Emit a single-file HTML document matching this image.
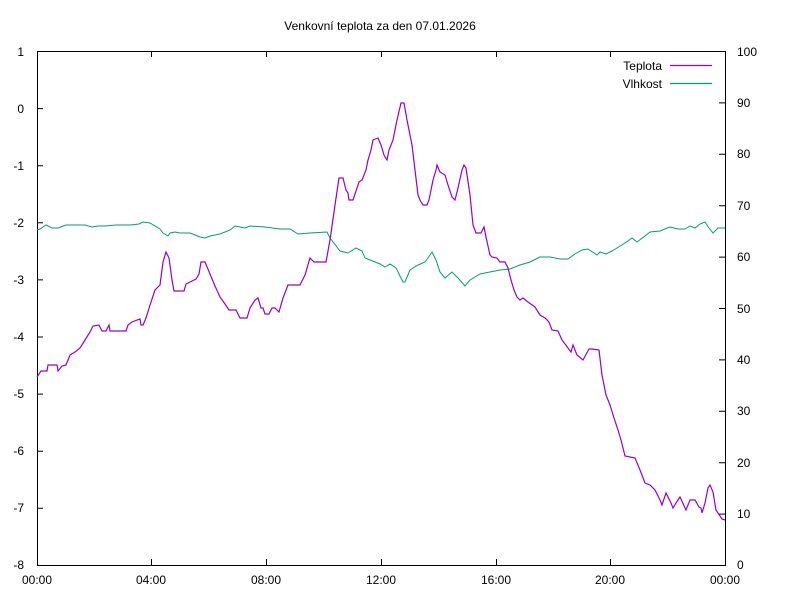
<!DOCTYPE html>
<html><head><meta charset="utf-8"><style>body{margin:0;background:#fff}svg{display:block}text{font-family:"Liberation Sans",sans-serif;font-size:12px;fill:#000}</style></head><body>
<svg width="800" height="600" viewBox="0 0 800 600">
<text x="380" y="30" text-anchor="middle">Venkovní teplota za den 07.01.2026</text>
<rect x="37.5" y="51.5" width="688" height="514" fill="none" stroke="#000" stroke-width="1"/>
<g stroke="#000" stroke-width="1">
<path d="M37 51.5h6M37 108.6h6M37 165.7h6M37 222.8h6M37 279.9h6M37 337h6M37 394.1h6M37 451.2h6M37 508.3h6M37 565.5h6"/>
<path d="M725 51.5h-6M725 102.9h-6M725 154.3h-6M725 205.7h-6M725 257.1h-6M725 308.5h-6M725 359.9h-6M725 411.3h-6M725 462.7h-6M725 514.1h-6"/>
<path d="M151.5 565v-6M266.5 565v-6M381.5 565v-6M496.5 565v-6M610.5 565v-6M151.5 51v6M266.5 51v6M381.5 51v6M496.5 51v6M610.5 51v6"/>
</g>
<g text-anchor="end">
<text x="24" y="56">1</text><text x="24" y="113">0</text><text x="24" y="170">-1</text><text x="24" y="227">-2</text><text x="24" y="284">-3</text><text x="24" y="341">-4</text><text x="24" y="398">-5</text><text x="24" y="455">-6</text><text x="24" y="512">-7</text><text x="24" y="569">-8</text>
</g>
<g>
<text x="737" y="56">100</text><text x="737" y="107">90</text><text x="737" y="158">80</text><text x="737" y="210">70</text><text x="737" y="261">60</text><text x="737" y="313">50</text><text x="737" y="364">40</text><text x="737" y="415">30</text><text x="737" y="467">20</text><text x="737" y="518">10</text><text x="737" y="569">0</text>
</g>
<g text-anchor="middle">
<text x="37" y="584">00:00</text><text x="151" y="584">04:00</text><text x="266" y="584">08:00</text><text x="381" y="584">12:00</text><text x="496" y="584">16:00</text><text x="610" y="584">20:00</text><text x="725" y="584">00:00</text>
</g>
<text x="662" y="70" text-anchor="end">Teplota</text>
<text x="662" y="88" text-anchor="end">Vlhkost</text>
<path d="M670 65.5h42" stroke="#9400d3" stroke-width="1.2"/>
<path d="M670 83.5h42" stroke="#009e73" stroke-width="1.2"/>
<polyline fill="none" stroke="#009e73" stroke-width="1" points="37,230 40,229 46,225 52,228 58,228 66,225 75,225 85,225 92,227 98,226 105,226 116,225 130,225 139,224 143,222 150,223 160,229 163,233 168,236 170,233 175,232 180,233 190,233 200,237 205,238 210,236 220,234 230,230 235,226 240,227 245,228 250,226 265,227 280,229 290,229 298,234 310,233 327,232 330,238 340,251 348,253 356,248 362,251 365,258 370,260 380,264 385,267 390,264 396,268 403,282 405,282 410,270 418,265 425,262 430,255 432,252 436,260 440,272 445,278 452,272 458,278 465,286 470,280 480,274 490,272 500,270 510,269 520,265 530,262 540,257 550,257 560,259 568,259 575,254 582,250 588,249 597,255 600,252 606,254 612,251 617,248 625,243 632,238 637,242 645,236 650,232 660,231 665,229 670,227 678,229 685,229 690,226 695,228 700,224 705,222 709,228 713,233 718,228 725,228"/>
<polyline fill="none" stroke="#9400d3" stroke-width="1.2" points="37,377 41,371 47,371 48,365 57,365 58,371 62,366 66,365 70,355 75,352 80,348 85,340 90,332 93,326 99,325 102,331 106,331 109,325 110,331 126,331 128,325 132,322 140,319 141,325 143,325 146,318 150,305 155,290 160,285 163,262 166,252 169,258 172,280 174,291 184,291 186,284 196,279 199,274 201,262 205,262 210,274 215,286 220,297 225,304 229,310 236,310 240,318 247,318 250,308 255,300 258,298 261,308 263,308 265,314 269,314 272,308 275,308 279,312 283,298 288,285 300,285 305,275 310,258 314,262 326,262 330,240 335,205 339,178 343,178 346,190 348,193 349,200 353,200 359,182 362,180 366,170 368,160 371,150 373,140 378,138 381,145 384,155 387,160 389,150 393,140 397,120 401,103 404,103 407,120 410,135 412,145 415,170 418,195 420,200 423,205 427,205 429,200 433,180 436,170 437,165 440,172 445,175 448,185 452,197 455,200 458,188 462,170 464,165 466,168 470,195 473,225 476,233 481,233 484,227 486,237 490,255 492,257 497,258 500,262 505,262 508,268 511,280 514,290 517,297 520,300 523,298 528,302 535,307 540,315 545,318 549,322 552,330 558,331 562,340 568,348 571,352 573,345 577,355 583,360 589,349 592,349 599,350 602,375 606,395 610,405 614,418 618,430 621,440 625,456 635,458 640,470 645,483 650,485 655,490 660,500 662,505 666,493 671,503 673,508 676,503 680,497 686,510 690,500 695,500 699,507 701,508 702,513 705,503 708,488 710,485 713,492 716,510 718,513 722,519 725,520"/>
</svg>
</body></html>
